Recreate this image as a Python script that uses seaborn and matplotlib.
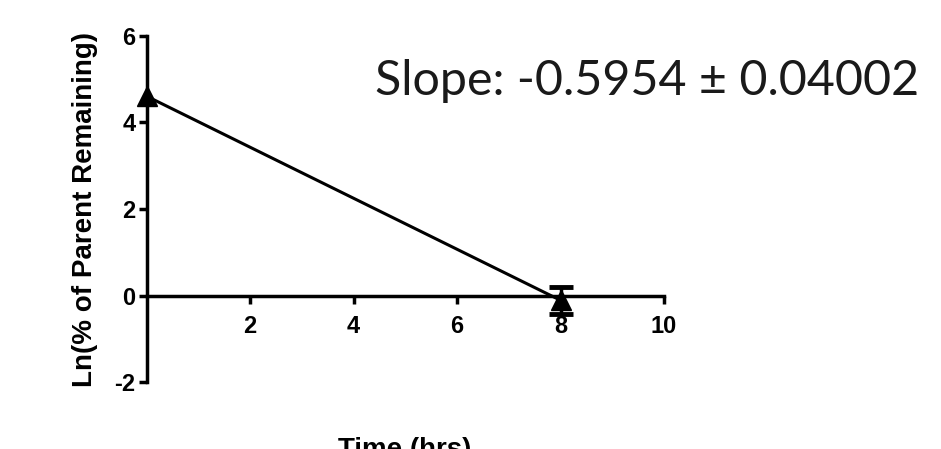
import matplotlib
matplotlib.use("Agg")
import matplotlib.pyplot as plt
import seaborn as sns
import pandas as pd

# Time course data (natural log of % parent remaining)
time_hrs = [0, 8]
ln_remaining = [4.605, -0.11]
ln_sd = [0.0, 0.31]
x_ticks = [2, 4, 6, 8, 10]
y_ticks = [-2, 0, 2, 4, 6]
slope_text = "Slope: -0.5954 \u00b1 0.04002"

sns.set_style("ticks")
plt.rcParams["font.family"] = ["Liberation Sans", "DejaVu Sans"]
plt.rcParams["text.color"] = "black"
plt.rcParams["axes.labelcolor"] = "black"
plt.rcParams["xtick.color"] = "black"
plt.rcParams["ytick.color"] = "black"

df = pd.DataFrame({"Time": time_hrs, "LnRem": ln_remaining, "SD": ln_sd})

fig = plt.figure(figsize=(9.41, 4.49), dpi=100)
ax = fig.add_axes([0.156, 0.149, 0.5496, 0.771])

sns.lineplot(data=df, x="Time", y="LnRem", color="black", linewidth=2.2, ax=ax)
for ln in ax.lines:
    ln.set_clip_on(False)

# triangles for each time point, error bars where a spread exists
ax.plot(df["Time"], df["LnRem"], "^", color="black", markersize=14, clip_on=False, zorder=5)
err = df[df["SD"] > 0]
ax.errorbar(err["Time"], err["LnRem"], yerr=err["SD"], fmt="none", ecolor="black",
            capsize=8.5, capthick=3.5, elinewidth=2.5, clip_on=False, zorder=5)

ax.spines["top"].set_visible(False)
ax.spines["right"].set_visible(False)
ax.spines["bottom"].set_position(("data", 0))
for s in ("left", "bottom"):
    ax.spines[s].set_linewidth(2.5)
    ax.spines[s].set_color("black")

ax.set_xlim(0, 10)
ax.set_ylim(-2, 6)
ax.set_xticks(x_ticks)
ax.set_yticks(y_ticks)
ax.set_xticklabels([str(t) for t in x_ticks], fontweight="bold", fontsize=17)
ax.set_yticklabels([str(t) for t in y_ticks], fontweight="bold", fontsize=17)
ax.tick_params(axis="both", width=2.5, length=6, color="black", labelcolor="black")
ax.tick_params(axis="x", pad=8)
ax.tick_params(axis="y", pad=2)
ax.set_xlabel("")
ax.set_ylabel("Ln(% of Parent Remaining)", fontweight="bold", fontsize=20)
ax.yaxis.set_label_coords(-0.095, 0.5)

fig.text(405 / 941, 1 - 437 / 449, "Time (hrs)", ha="center", va="top", fontweight="bold", fontsize=20)
fig.text(375 / 941, 1 - 95 / 449, slope_text, ha="left", va="baseline", fontsize=34.8,
         family=["Lato", "DejaVu Sans"], color="#1a1a1a")

fig.savefig("out.png", dpi=100, facecolor="white")
